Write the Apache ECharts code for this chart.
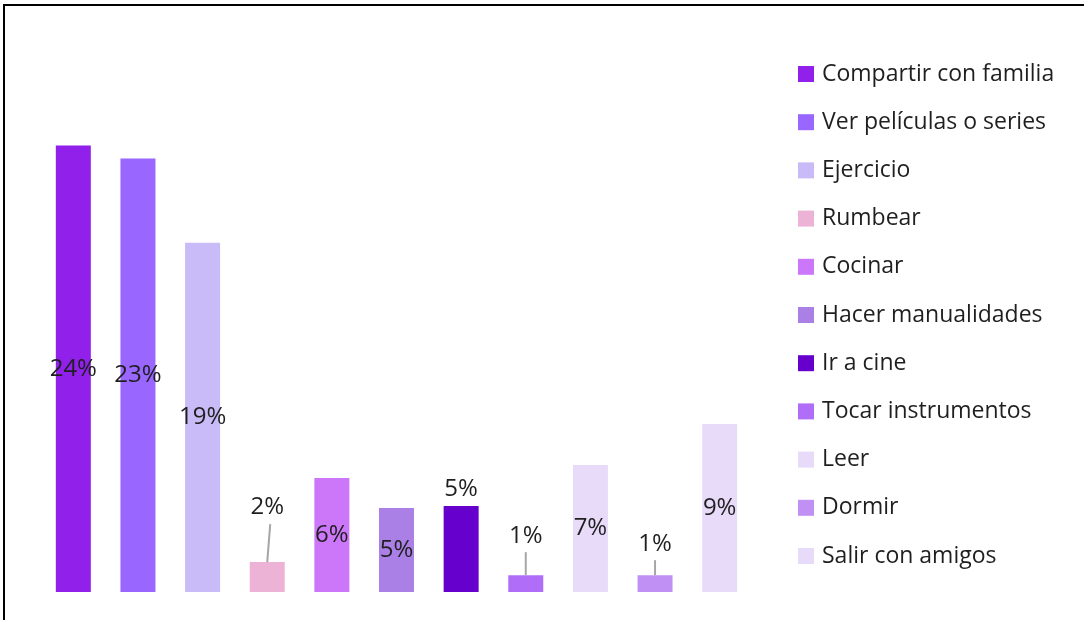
<!DOCTYPE html>
<html>
<head>
    <meta http-equiv="Content-Type" content="text/html; charset=utf-8" />
    <title>Actividades</title>
    <style>
        body{ margin:0; background:#fff; }
        #main{
            position:absolute;
            left:0; top:0;
            width:1084px;
            height:620px;
        }
        #frame{
            position:absolute;
            left:3px; top:4px;
            width:1200px; height:700px;
            border-top:2px solid #000;
            border-left:2px solid #000;
            pointer-events:none;
        }
    </style>
</head>
<body>
    <div id="main"></div>
    <div id="frame"></div>
    <script src="https://cdn.jsdelivr.net/npm/echarts/dist/echarts.min.js"></script>
    <script type="text/javascript">
        // actividades y porcentajes
        var categories = ['Compartir con familia', 'Ver películas o series', 'Ejercicio', 'Rumbear', 'Cocinar',
            'Hacer manualidades', 'Ir a cine', 'Tocar instrumentos', 'Leer', 'Dormir', 'Salir con amigos'];
        var values = [23.9, 23.2, 18.7, 1.6, 6.1, 4.5, 4.6, 0.9, 6.8, 0.9, 9.0];

        var colors = ['#9020EA', '#9966FF', '#C8BBF7', '#EDB3D6', '#CC77FA',
            '#AA80E6', '#6600CC', '#B06EF8', '#E8DAF9', '#C090F5', '#E8DAF9'];

        // etiquetas que van encima de la barra: distancia y largo de la linea guia (px)
        var outside = {
            3: {distance: 43, line: 38, dx: 3},
            6: {distance: 5, line: 0, dx: 0},
            7: {distance: 27, line: 23, dx: 0},
            9: {distance: 19, line: 15, dx: 0}
        };

        var myChart = echarts.init(document.getElementById('main'));

        var series = categories.map(function(name, i){
            var out = outside[i];
            var label = {
                show: true,
                position: 'inside',
                fontSize: 24,
                color: '#1f1f1f',
                fontFamily: 'Open Sans',
                formatter: function(p){ return Math.round(p.value) + '%'; }
            };
            if(out){
                label.position = 'top';
                label.distance = out.distance;
            }
            return {
                name: name,
                type: 'bar',
                barWidth: 35,
                barGap: '-100%',
                itemStyle: {color: colors[i]},
                label: label,
                data: values.map(function(v, j){ return j === i ? v : '-'; })
            };
        });

        // lineas guia desde la punta de la barra hasta la etiqueta
        var guideData = [];
        Object.keys(outside).forEach(function(k){
            if(outside[k].line > 0){
                guideData.push([+k, values[+k]]);
            }
        });
        series.push({
            type: 'custom',
            silent: true,
            z: 5,
            renderItem: function(params, api){
                var idx = api.value(0);
                var cfg = outside[idx];
                var p = api.coord([idx, api.value(1)]);
                return {
                    type: 'line',
                    shape: {x1: p[0], y1: p[1], x2: p[0] + cfg.dx, y2: p[1] - cfg.line},
                    style: {stroke: '#A6A6A6', lineWidth: 2}
                };
            },
            data: guideData
        });

        var option = {
            animation: false,
            textStyle: {fontFamily: 'Open Sans'},
            grid: {left: 41, right: 332, top: 125, bottom: 28},
            legend: {
                orient: 'vertical',
                left: 798,
                top: 62,
                padding: 0,
                icon: 'rect',
                itemWidth: 16,
                itemHeight: 16,
                itemGap: 24.2,
                selectedMode: false,
                textStyle: {fontSize: 23, lineHeight: 24, color: '#1f1f1f', fontFamily: 'Open Sans', padding: [0, 0, 0, 3]},
                data: categories
            },
            xAxis: {
                type: 'category',
                data: categories,
                show: false
            },
            yAxis: {
                type: 'value',
                min: 0,
                max: 25,
                show: false
            },
            series: series
        };

        myChart.setOption(option);
    </script>
</body>
</html>
